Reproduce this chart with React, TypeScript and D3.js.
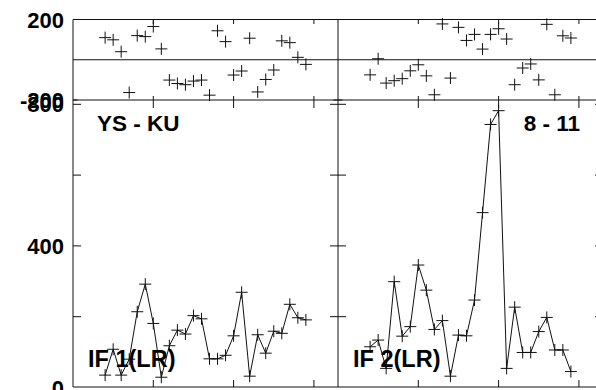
import React from "react";
import * as d3 from "d3";

const panelTitles = ["YS - KU", "8 - 11"];
const panelLabels = ["IF 1(LR)", "IF 2(LR)"];
const timeIdx = [4, 5, 6, 7, 8, 9, 10, 11, 12, 13, 14, 15, 16, 17, 18, 19, 20, 21, 22, 23, 24, 25, 26, 27, 28, 29];
const if1Values = [35, 108, 35, 80, 214, 292, 181, 29, 118, 162, 151, 203, 194, 81, 81, 91, 146, 269, 32, 149, 97, 159, 153, 235, 197, 191];
const if2Values = [115, 134, 54, 299, 145, 172, 346, 275, 164, 189, 32, 148, 146, 247, 494, 743, 782, 54, 227, 99, 99, 158, 198, 106, 106, 45];
const if1Resid = [110, 99, 40, -163, 120, 115, 165, 54, -101, -118, -124, -106, -101, -176, 144, 90, -76, -56, 107, -160, -98, -51, 94, 85, 12, -23];
const if2Resid = [-75, 5, -116, -104, -94, -55, -25, -80, -174, 178, -91, 161, 96, 126, 53, 126, 154, 103, -124, -41, -21, -100, 176, -174, 119, 108];
const xTicks = [10, 20, 30];
const mainTicks = [200, 400, 600, 800];
const mainLabels = [0, 400, 800];
const residTicks = [-200, 200];

const W = 596;
const H = 390;
const left = 73;
const mid = 338;
const right = 603;
const top = 19.5;
const residBottom = 100;
const bottom = 387;

const panels = [
  { values: if1Values, resid: if1Resid, x0: left, x1: mid },
  { values: if2Values, resid: if2Resid, x0: mid, x1: right },
];

const yMain = d3.scaleLinear().domain([0, 800]).range([387.5, 104.3]);
const yRes = d3.scaleLinear().domain([-200, 200]).range([residBottom, top]);

const FONT = "'Liberation Sans', Arial, sans-serif";
const S = "#111";

function plus(x: number, y: number, r = 6) {
  return `M${x - r},${y}h${2 * r}M${x},${y - r}v${2 * r}`;
}

export default function App() {
  const els: React.ReactNode[] = [];
  panels.forEach((p, pi) => {
    const x = d3.scaleLinear().domain([0, 33]).range([p.x0, p.x1]);
    const line = d3
      .line<number>()
      .x((_, i) => x(timeIdx[i]))
      .y((d) => yMain(d));
    els.push(<path key={`l${pi}`} d={line(p.values) || ""} fill="none" stroke={S} strokeWidth={1} />);
    const mk = p.values.map((v, i) => plus(x(timeIdx[i]), yMain(v))).join("");
    els.push(<path key={`m${pi}`} d={mk} fill="none" stroke={S} strokeWidth={1} />);
    const rk = p.resid.map((v, i) => plus(x(timeIdx[i]), yRes(v))).join("");
    els.push(<path key={`r${pi}`} d={rk} fill="none" stroke={S} strokeWidth={1} />);
    xTicks.forEach((t) => {
      const tx = x(t);
      els.push(
        <path
          key={`xt${pi}-${t}`}
          d={`M${tx},${bottom}v-7M${tx},${residBottom}v8M${tx},${residBottom}v-4M${tx},${top}v4.5`}
          stroke={S}
          strokeWidth={1}
        />
      );
    });
    els.push(
      <text key={`t${pi}`} x={pi === 0 ? 97 : 580} y={131} textAnchor={pi === 0 ? "start" : "end"}
        fontFamily={FONT} fontWeight="bold" fontSize={22.5} fill="#000">
        {panelTitles[pi]}
      </text>
    );
    els.push(
      <text key={`lb${pi}`} x={pi === 0 ? 88 : 353} y={366.5} textAnchor="start"
        fontFamily={FONT} fontWeight="bold" fontSize={23.5} fill="#000">
        {panelLabels[pi]}
      </text>
    );
  });

  const yt: string[] = [];
  mainTicks.forEach((v) => {
    const y = yMain(v);
    yt.push(`M${left},${y}h8`, `M${mid - 8},${y}h16`, `M${right},${y}h-8`);
  });
  residTicks.forEach((v) => {
    const y = yRes(v);
    yt.push(`M${left},${y}h4.5`, `M${mid - 4.5},${y}h9`, `M${right},${y}h-4.5`);
  });

  return (
    <svg width={W} height={H} style={{ position: "absolute", left: 0, top: 0, background: "#fff" }}>
      <rect width={W} height={H} fill="#fff" />
      <g stroke={S} strokeWidth={1} fill="none">
        <line x1={left} x2={right} y1={top} y2={top} />
        <line x1={left} x2={right} y1={yRes(0)} y2={yRes(0)} />
        <line x1={left} x2={right} y1={residBottom} y2={residBottom} />
        <line x1={left} x2={right} y1={bottom} y2={bottom} />
        <line x1={left} x2={left} y1={top} y2={bottom} />
        <line x1={mid} x2={mid} y1={top} y2={bottom} />
        <line x1={right} x2={right} y1={top} y2={bottom} />
        <path d={yt.join("")} />
      </g>
      {els}
      {residTicks.map((v) => (
        <text key={`ry${v}`} x={64} y={yRes(v) + 8} textAnchor="end" fontFamily={FONT}
          fontWeight="bold" fontSize={22} fill="#000">
          {v}
        </text>
      ))}
      {mainLabels.map((v) => (
        <text key={`my${v}`} x={64} y={yMain(v) + 8} textAnchor="end" fontFamily={FONT}
          fontWeight="bold" fontSize={22} fill="#000">
          {v}
        </text>
      ))}
    </svg>
  );
}
